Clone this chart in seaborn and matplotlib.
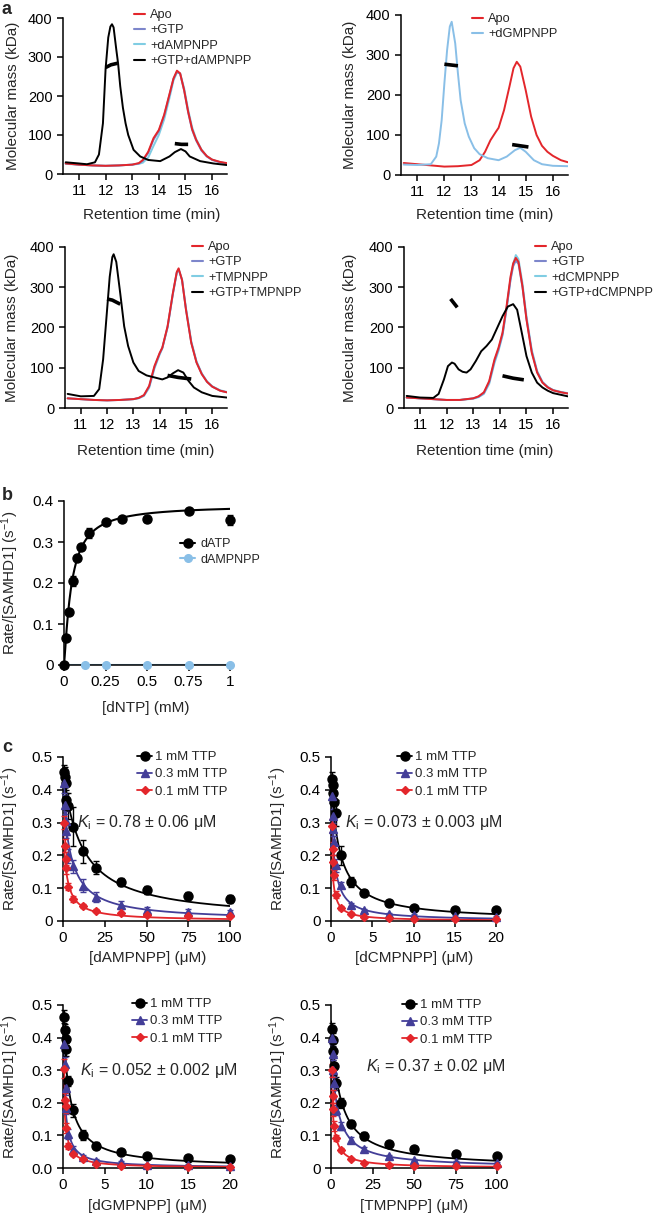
import numpy as np
import pandas as pd
import matplotlib
matplotlib.use("Agg")
import matplotlib.pyplot as plt
from matplotlib.lines import Line2D
import seaborn as sns

sns.set_theme(style="ticks")
plt.rcParams['font.family'] = ['Liberation Sans', 'DejaVu Sans']
plt.rcParams['mathtext.fontset'] = 'custom'
plt.rcParams['mathtext.rm'] = 'Liberation Sans'
plt.rcParams['mathtext.it'] = 'Liberation Sans:italic'
plt.rcParams['axes.linewidth'] = 1.1

W, H = 657, 1221

RED = '#e3262b'
GTP_C = '#7d86cb'
CYAN = '#80cde3'
LBLUE = '#89bfe7'
NAVY = '#433e98'

# ---------- panel a: SEC-MALS traces (retention time in min, mass in kDa)
a1_t_apo = [10.5, 11.0, 11.5, 12.0, 12.5, 13.0, 13.25, 13.4, 13.6, 13.8, 14.0, 14.2, 14.4, 14.55, 14.68, 14.8, 14.95, 15.1, 15.25, 15.4, 15.6, 15.8, 16.0, 16.3, 16.55]
a1_apo = [27, 24, 22, 21, 22, 24, 28, 36, 57, 92, 113, 152, 205, 245, 265, 258, 215, 160, 115, 88, 62, 46, 37, 31, 28]
a1_gtp = [27, 24, 22, 21, 22, 24, 27, 34, 54, 88, 110, 150, 203, 244, 262, 257, 214, 158, 113, 86, 60, 45, 36, 30, 27]
a1_nuc = [26, 24, 22, 21, 22, 24, 26, 29, 42, 72, 100, 140, 195, 240, 260, 258, 220, 165, 120, 90, 63, 46, 37, 30, 27]
a1_t_mix = [10.5, 11.0, 11.3, 11.6, 11.75, 11.9, 12.0, 12.1, 12.18, 12.24, 12.3, 12.4, 12.47, 12.55, 12.65, 12.75, 12.85, 13.05, 13.3, 13.6, 14.05, 14.4, 14.6, 14.83, 15.0, 15.16, 15.55, 16.05, 16.55]
a1_mix = [30, 27, 25, 30, 50, 130, 270, 350, 378, 384, 376, 320, 283, 225, 170, 130, 100, 62, 45, 36, 33, 45, 56, 64, 58, 45, 33, 27, 23]
a1_mass = [([12.0, 12.2, 12.45], [273, 280, 284]), ([14.6, 14.85, 15.1], [78, 76, 76])]

a2_t_apo = [10.5, 11.0, 11.5, 12.0, 12.5, 13.0, 13.3, 13.5, 13.7, 13.9, 14.0, 14.2, 14.4, 14.55, 14.67, 14.8, 15.0, 15.2, 15.4, 15.6, 15.8, 16.0, 16.3, 16.55]
a2_apo = [30, 27, 24, 21, 22, 25, 37, 58, 87, 108, 118, 162, 221, 267, 283, 271, 212, 146, 100, 73, 58, 48, 37, 32]
a2_t_nuc = [10.5, 11.0, 11.5, 11.7, 11.8, 11.9, 12.0, 12.1, 12.2, 12.27, 12.4, 12.5, 12.6, 12.75, 12.9, 13.1, 13.3, 13.6, 14.0, 14.3, 14.6, 14.8, 15.0, 15.3, 15.6, 16.0, 16.55]
a2_nuc = [26, 25, 27, 46, 79, 137, 229, 312, 371, 383, 329, 254, 187, 129, 96, 67, 52, 42, 37, 46, 62, 68, 58, 37, 27, 23, 22]
a2_mass = [([12.0, 12.5], [277, 273]), ([14.5, 15.1], [76, 70])]

a3_t_apo = [10.5, 11.0, 11.5, 12.0, 12.5, 13.0, 13.2, 13.4, 13.6, 13.8, 14.0, 14.1, 14.3, 14.5, 14.65, 14.72, 14.85, 15.0, 15.2, 15.4, 15.6, 15.8, 16.0, 16.3, 16.55]
a3_apo = [24, 22, 20, 19, 20, 22, 25, 32, 55, 104, 137, 150, 203, 285, 338, 347, 318, 244, 162, 113, 84, 65, 53, 43, 39]
a3_gtp = [24, 22, 20, 19, 20, 22, 25, 31, 53, 101, 135, 149, 201, 283, 336, 344, 318, 245, 163, 114, 85, 65, 53, 43, 39]
a3_nuc = [24, 22, 20, 19, 20, 22, 24, 30, 50, 98, 133, 148, 200, 282, 336, 345, 320, 248, 166, 116, 86, 66, 54, 44, 40]
a3_t_mix = [10.5, 11.0, 11.5, 11.7, 11.85, 12.0, 12.1, 12.2, 12.25, 12.35, 12.5, 12.65, 12.8, 13.0, 13.2, 13.5, 13.8, 14.1, 14.3, 14.5, 14.7, 14.9, 15.1, 15.3, 15.6, 16.0, 16.55]
a3_mix = [35, 29, 30, 47, 121, 244, 326, 375, 382, 363, 285, 203, 154, 113, 92, 81, 76, 71, 76, 86, 94, 88, 67, 51, 39, 30, 26]
a3_mass = [([12.0, 12.2, 12.5], [271, 268, 258]), ([14.3, 14.7, 15.2], [81, 76, 72])]

a4_t_apo = [10.5, 11.0, 11.5, 12.0, 12.5, 13.0, 13.2, 13.4, 13.6, 13.8, 13.95, 14.1, 14.25, 14.4, 14.5, 14.6, 14.7, 14.85, 15.0, 15.2, 15.4, 15.6, 15.8, 16.0, 16.3, 16.55]
a4_apo = [26, 24, 22, 20, 20, 24, 29, 39, 67, 121, 150, 187, 252, 326, 359, 373, 363, 302, 220, 137, 88, 63, 51, 44, 39, 36]
a4_gtp = [26, 24, 22, 20, 20, 24, 28, 37, 64, 117, 146, 183, 246, 318, 352, 366, 358, 300, 222, 140, 90, 64, 52, 44, 39, 36]
a4_nuc = [26, 24, 22, 20, 20, 23, 27, 35, 60, 112, 142, 180, 245, 320, 358, 380, 370, 310, 228, 144, 92, 65, 52, 45, 40, 37]
a4_t_mix = [10.5, 11.0, 11.5, 11.7, 11.9, 12.05, 12.2, 12.3, 12.45, 12.6, 12.75, 12.9, 13.1, 13.3, 13.5, 13.7, 13.9, 14.1, 14.3, 14.5, 14.65, 14.8, 15.0, 15.2, 15.4, 15.6, 15.8, 16.0, 16.55]
a4_mix = [30, 26, 25, 35, 71, 104, 113, 110, 96, 90, 88, 96, 117, 141, 154, 170, 199, 228, 252, 258, 244, 195, 129, 88, 63, 51, 43, 37, 29]
a4_mass = [([12.15, 12.4], [271, 250]), ([14.1, 14.5, 14.9], [80, 74, 70])]

a_yticks = [0, 100, 200, 300, 400]
a_xticks = [11, 12, 13, 14, 15, 16]

# ---------- panel b: activity vs [dNTP]
b_conc = [0, 0.015, 0.03, 0.055, 0.08, 0.1, 0.15, 0.25, 0.35, 0.5, 0.75, 1]
b_datp = [0, 0.066, 0.130, 0.204, 0.261, 0.287, 0.321, 0.348, 0.357, 0.355, 0.376, 0.354]
b_datp_err = [0, 0.004, 0.006, 0.012, 0.006, 0.006, 0.012, 0.006, 0.005, 0.005, 0.005, 0.012]
b_conc2 = [0, 0.125, 0.25, 0.5, 0.75, 1]
b_dampnpp = [0, 0, 0, 0, 0, 0]
b_fit = dict(vmax=0.39, k=0.045, n=1.2)
b_xticks = [0, 0.25, 0.5, 0.75, 1]
b_xlabels = ['0', '0.25', '0.5', '0.75', '1']
b_yticks = [0, 0.1, 0.2, 0.3, 0.4]
b_ylabels = ['0', '0.1', '0.2', '0.3', '0.4']

# ---------- panel c: inhibition at three TTP levels
X20 = [0.1, 0.2, 0.3, 0.4, 0.6, 1.2, 2.4, 4, 7, 10, 15, 20]
X100 = [0.5, 1, 1.5, 2, 3, 6, 12, 20, 35, 50, 75, 100]
ttp_labels = ['1 mM TTP', '0.3 mM TTP', '0.1 mM TTP']

c1_vals = [[0.455, 0.44, 0.42, 0.37, 0.35, 0.288, 0.212, 0.162, 0.12, 0.095, 0.077, 0.068],
           [0.42, 0.355, 0.305, 0.273, 0.198, 0.167, 0.107, 0.072, 0.048, 0.033, 0.028, 0.026],
           [0.30, 0.23, 0.19, 0.163, 0.105, 0.067, 0.046, 0.031, 0.024, 0.018, 0.016, 0.014]]
c1_errs = [[0.02, 0.03, 0.03, 0.03, 0.04, 0.06, 0.035, 0.02, 0.012, 0.012, 0.01, 0.012],
           [0.03, 0.03, 0.03, 0.02, 0.02, 0.02, 0.02, 0.015, 0.012, 0.01, 0.008, 0.008],
           [0.02, 0.02, 0.02, 0.02, 0.01, 0.008, 0.006, 0.005, 0.004, 0.004, 0.003, 0.003]]
c1_fit = [(0.46, 11.0), (0.40, 4.75), (0.29, 2.1)]

c2_vals = [[0.434, 0.414, 0.39, 0.364, 0.33, 0.2, 0.12, 0.085, 0.054, 0.041, 0.033, 0.033],
           [0.38, 0.32, 0.28, 0.24, 0.17, 0.11, 0.05, 0.033, 0.022, 0.017, 0.014, 0.013],
           [0.29, 0.22, 0.18, 0.14, 0.08, 0.04, 0.022, 0.012, 0.008, 0.006, 0.005, 0.005]]
c2_errs = [[0.02, 0.02, 0.03, 0.03, 0.04, 0.03, 0.015, 0.01, 0.006, 0.005, 0.004, 0.004],
           [0.02, 0.02, 0.02, 0.02, 0.02, 0.01, 0.005, 0.004, 0.003, 0.003, 0.003, 0.003],
           [0.02, 0.02, 0.02, 0.015, 0.01, 0.006, 0.004, 0.003, 0.002, 0.002, 0.002, 0.002]]
c2_fit = [(0.44, 1.0), (0.38, 0.4), (0.29, 0.2)]

c3_vals = [[0.464, 0.423, 0.397, 0.364, 0.268, 0.177, 0.102, 0.069, 0.049, 0.036, 0.031, 0.028],
           [0.38, 0.32, 0.245, 0.185, 0.105, 0.056, 0.034, 0.023, 0.018, 0.01, 0.008, 0.007],
           [0.305, 0.21, 0.19, 0.122, 0.068, 0.044, 0.028, 0.012, 0.007, 0.005, 0.004, 0.004]]
c3_errs = [[0.02, 0.02, 0.02, 0.02, 0.015, 0.02, 0.015, 0.01, 0.005, 0.005, 0.004, 0.004],
           [0.02, 0.02, 0.02, 0.02, 0.015, 0.01, 0.006, 0.005, 0.004, 0.003, 0.003, 0.003],
           [0.03, 0.02, 0.02, 0.015, 0.01, 0.006, 0.004, 0.003, 0.002, 0.002, 0.002, 0.002]]
c3_fit = [(0.48, 0.7), (0.40, 0.25), (0.34, 0.2)]

c4_vals = [[0.425, 0.393, 0.36, 0.314, 0.26, 0.199, 0.136, 0.097, 0.073, 0.058, 0.044, 0.038],
           [0.40, 0.35, 0.30, 0.26, 0.178, 0.128, 0.087, 0.058, 0.036, 0.026, 0.018, 0.015],
           [0.30, 0.22, 0.18, 0.13, 0.092, 0.056, 0.028, 0.015, 0.01, 0.007, 0.005, 0.005]]
c4_errs = [[0.02, 0.02, 0.03, 0.03, 0.02, 0.015, 0.01, 0.012, 0.006, 0.005, 0.005, 0.005],
           [0.02, 0.02, 0.02, 0.02, 0.015, 0.012, 0.008, 0.006, 0.004, 0.003, 0.003, 0.003],
           [0.02, 0.02, 0.02, 0.015, 0.01, 0.006, 0.004, 0.003, 0.002, 0.002, 0.002, 0.002]]
c4_fit = [(0.45, 5.2), (0.40, 3.33), (0.31, 1.32)]

ki_texts = [r'$K_{\rm i}$ = 0.78 ± 0.06 μM', r'$K_{\rm i}$ = 0.073 ± 0.003 μM',
            r'$K_{\rm i}$ = 0.052 ± 0.002 μM', r'$K_{\rm i}$ = 0.37 ± 0.02 μM']

fig = plt.figure(figsize=(W / 100, H / 100), dpi=100)


def rect(l, r, t, b):
    return [l / W, 1 - b / H, (r - l) / W, (b - t) / H]


def style(ax, fs):
    sns.despine(ax=ax)
    ax.tick_params(direction='out', length=4.5, width=1.1, labelsize=fs, pad=3, colors='black')
    for s in ax.spines.values():
        s.set_color('black')


def labels(ax, xlab, ylab, xc, xtop, yr):
    ax.set_xlabel(xlab, fontsize=11)
    ax.set_ylabel(ylab, fontsize=11)
    pos = ax.get_position()
    ax.xaxis.set_label_coords(xc / W, 1 - xtop / H, transform=fig.transFigure)
    ax.yaxis.set_label_coords(yr / W, pos.y0 + pos.height / 2, transform=fig.transFigure)


def legend(ax, handles, labs, x, top, fs, hl, htp, ls):
    ax.legend(handles, labs, loc='upper left', bbox_to_anchor=(x / W, 1 - top / H),
              bbox_transform=fig.transFigure, frameon=False, borderpad=0, borderaxespad=0,
              handlelength=hl, handletextpad=htp, labelspacing=ls, fontsize=fs)


def chrom(box, curves, masses, leg_names, leg_colors, leg_x, leg_top, xc, xtop, yr):
    ax = fig.add_axes(rect(*box))
    for t, v, c in curves:
        sns.lineplot(x=t, y=v, color=c, lw=1.4, ax=ax, estimator=None, sort=False)
    for t, v in masses:
        ax.plot(t, v, color='black', lw=2.6, solid_capstyle='butt')
    ax.set_xlim(10.4, 16.56)
    ax.set_ylim(0, 400)
    ax.set_xticks(a_xticks)
    ax.set_yticks(a_yticks)
    style(ax, 10.5)
    labels(ax, 'Retention time (min)', 'Molecular mass (kDa)', xc, xtop, yr)
    hs = [Line2D([], [], color=c, lw=1.5) for c in leg_colors]
    legend(ax, hs, leg_names, leg_x, leg_top, 9.2, 0.85, 0.4, 0.27)
    return ax


chrom((63, 227, 18, 174),
      [(a1_t_apo, a1_nuc, CYAN), (a1_t_apo, a1_gtp, GTP_C), (a1_t_apo, a1_apo, RED), (a1_t_mix, a1_mix, 'black')],
      a1_mass, ['Apo', '+GTP', '+dAMPNPP', '+GTP+dAMPNPP'], [RED, GTP_C, CYAN, 'black'],
      134, 9, 152, 208, 20)
chrom((401, 568, 15, 175),
      [(a2_t_apo, a2_apo, RED), (a2_t_nuc, a2_nuc, LBLUE)],
      a2_mass, ['Apo', '+dGMPNPP'], [RED, LBLUE],
      472, 13, 485, 208, 357)
chrom((65, 227, 247, 408),
      [(a3_t_apo, a3_nuc, CYAN), (a3_t_apo, a3_gtp, GTP_C), (a3_t_apo, a3_apo, RED), (a3_t_mix, a3_mix, 'black')],
      a3_mass, ['Apo', '+GTP', '+TMPNPP', '+GTP+TMPNPP'], [RED, GTP_C, CYAN, 'black'],
      192, 241, 146, 444, 19)
chrom((404, 568, 247, 408),
      [(a4_t_apo, a4_nuc, CYAN), (a4_t_apo, a4_gtp, GTP_C), (a4_t_apo, a4_apo, RED), (a4_t_mix, a4_mix, 'black')],
      a4_mass, ['Apo', '+GTP', '+dCMPNPP', '+GTP+dCMPNPP'], [RED, GTP_C, CYAN, 'black'],
      535, 241, 485, 444, 357)

# ---------- panel b
axb = fig.add_axes(rect(64, 230, 501, 665))
xs = np.linspace(0, 1, 500)
fit_b = b_fit['vmax'] * xs ** b_fit['n'] / (b_fit['k'] ** b_fit['n'] + xs ** b_fit['n'])
sns.lineplot(x=b_conc2, y=b_dampnpp, color=LBLUE, lw=1.5, ax=axb, estimator=None)
axb.plot(b_conc2, b_dampnpp, 'o', color=LBLUE, ms=5.5, clip_on=False, zorder=4)
sns.lineplot(x=xs, y=fit_b, color='black', lw=1.5, ax=axb, estimator=None)
axb.errorbar(b_conc, b_datp, yerr=b_datp_err, fmt='o', color='black', ms=6.5,
             capsize=2.5, elinewidth=1, clip_on=False, zorder=5)
axb.set_xlim(0, 1)
axb.set_ylim(0, 0.4)
axb.set_xticks(b_xticks)
axb.set_xticklabels(b_xlabels)
axb.set_yticks(b_yticks)
axb.set_yticklabels(b_ylabels)
style(axb, 11)
labels(axb, '[dNTP] (mM)', r'Rate/[SAMHD1] (s$^{-1}$)', 146, 701, 21)
hb = [Line2D([], [], color='black', marker='o', ms=6.5, lw=1.5),
      Line2D([], [], color=LBLUE, marker='o', ms=5.5, lw=1.5)]
legend(axb, hb, ['dATP', 'dAMPNPP'], 180, 538, 9, 1.2, 0.45, 0.3)

# ---------- panel c
series_style = [('black', 'o', 6.5), (NAVY, '^', 6), (RED, 'D', 4.5)]


def inhib(box, xvals, vals, errs, fits, xmax, xticks, yticklabels, xlab, xc, xtop, yr,
          leg_x, leg_top, ki, ki_x, ki_y):
    ax = fig.add_axes(rect(*box))
    grid = np.linspace(0, xmax, 600)
    for (col, mk, ms), v, e, (v0, k) in zip(series_style, vals, errs, fits):
        sns.lineplot(x=grid, y=v0 * k / (k + grid), color=col, lw=1.3, ax=ax, estimator=None)
        ax.errorbar(xvals, v, yerr=e, fmt=mk, color=col, ms=ms, capsize=2.5, elinewidth=1,
                    clip_on=False, zorder=5)
    ax.set_xlim(0, xmax)
    ax.set_ylim(0, 0.5)
    ax.set_xticks(xticks)
    ax.set_yticks([0, 0.1, 0.2, 0.3, 0.4, 0.5])
    ax.set_yticklabels(yticklabels)
    style(ax, 11)
    labels(ax, xlab, r'Rate/[SAMHD1] (s$^{-1}$)', xc, xtop, yr)
    hs = [Line2D([], [], color=c, marker=m, ms=s, lw=1.3) for c, m, s in series_style]
    legend(ax, hs, ttp_labels, leg_x, leg_top, 9.5, 1.15, 0.2, 0.38)
    fig.text(ki_x / W, 1 - ki_y / H, ki, fontsize=11.5, va='center', ha='left')
    return ax


yl_a = ['0', '0.1', '0.2', '0.3', '0.4', '0.5']
yl_b = ['0.0', '0.1', '0.2', '0.3', '0.4', '0.5']
inhib((63, 230, 757, 921), X100, c1_vals, c1_errs, c1_fit, 100, [0, 25, 50, 75, 100], yl_a,
      '[dAMPNPP] (μM)', 148, 951, 21, 137, 751, ki_texts[0], 77, 823)
inhib((331, 496, 757, 921), X20, c2_vals, c2_errs, c2_fit, 20, [0, 5, 10, 15, 20], yl_a,
      '[dCMPNPP] (μM)', 414, 951, 289, 397, 751, ki_texts[1], 345, 823)
inhib((63, 230, 1005, 1168), X20, c3_vals, c3_errs, c3_fit, 20, [0, 5, 10, 15, 20], yl_b,
      '[dGMPNPP] (μM)', 147, 1199, 21, 132, 998, ki_texts[2], 80, 1070)
inhib((331, 497, 1005, 1168), X100, c4_vals, c4_errs, c4_fit, 100, [0, 25, 50, 75, 100], yl_a,
      '[TMPNPP] (μM)', 414, 1199, 289, 402, 999, ki_texts[3], 366, 1067)

for lab, y in [('a', 9), ('b', 496), ('c', 748)]:
    fig.text(2 / W, 1 - y / H, lab, fontsize=13, fontweight='bold', va='center', ha='left')

fig.savefig('out.png', dpi=100)
